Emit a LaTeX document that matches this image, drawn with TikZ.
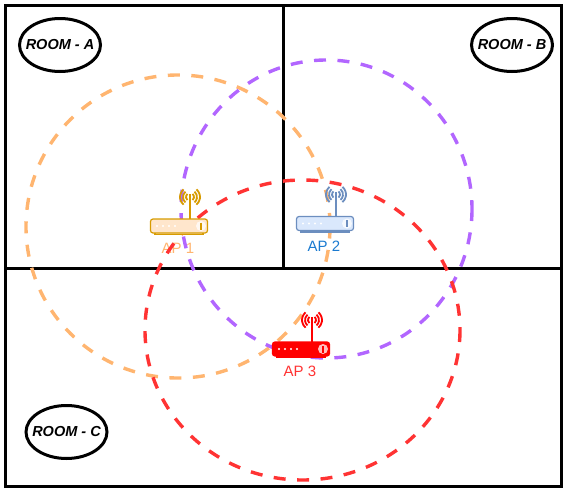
\documentclass[tikz,border=0pt]{standalone}
\usepackage{fontspec}
\setmainfont{Liberation Sans}
\usetikzlibrary{shapes.geometric}
\definecolor{cOrange}{HTML}{FFB570}
\definecolor{cPurple}{HTML}{B266FF}
\definecolor{cRed}{HTML}{FF3333}
\definecolor{cBlueText}{HTML}{1A7AD0}
\definecolor{oFill}{HTML}{FFE6CC}
\definecolor{oLine}{HTML}{D79B00}
\definecolor{bFill}{HTML}{DAE8FC}
\definecolor{bLine}{HTML}{6C8EBF}
\tikzset{
  wall/.style={draw=black,line width=3pt},
  coverage/.style={line width=3.4pt,dash pattern=on 12pt off 11.5pt},
  roomtag/.style={draw=black,line width=3pt,ellipse,minimum width=81pt,minimum height=53pt,inner xsep=-6.5pt,inner ysep=0pt,font=\fontsize{14.5pt}{16pt}\selectfont\bfseries\itshape},
  aplabel/.style={font=\fontsize{15pt}{17pt}\selectfont,inner sep=0pt},
  pics/router/.style n args={3}{code={
    \draw[draw=#2,fill=#1,line width=1.2pt] (-24,8) rectangle (24,15.5);
    \draw[draw=#2,line width=2.6pt] (11,0) -- (11,-25);
    \foreach \r in {4,7,10}{
      \draw[draw=#2,line width=1.8pt] (11-\r*0.643,-22-\r*0.766) arc[start angle=230,end angle=130,radius=\r];
      \draw[draw=#2,line width=1.8pt] (11+\r*0.643,-22-\r*0.766) arc[start angle=-50,end angle=50,radius=\r];
    }
    \draw[draw=#2,fill=#1,line width=1.2pt,rounded corners=2.5pt] (-28.5,0) rectangle (28.5,14);
    \fill[white,opacity=.75] (22,7) circle[radius=5];
    \draw[draw=#2,line width=1.1pt] (22,3.5) -- (22,10.5);
    \foreach \d in {-22,-16,-10,-4} \fill[white] (\d,7) circle[radius=1.2];
  }}
}
\begin{document}
\begin{tikzpicture}[x=1pt,y=-1pt]
\useasboundingbox (0,0) rectangle (566,493);
\node[aplabel,text=cOrange] (ap1label) at (178,248) {AP 1};
\node[aplabel,text=cBlueText] (ap2label) at (324,246) {AP 2};
\node[aplabel,text=cRed] (ap3label) at (300,371) {AP 3};
\draw[wall] (5.5,5) rectangle (561,486);
\coordinate (wallT) at (283,5);
\coordinate (wallM) at (283,268);
\coordinate (wallL) at (5.5,268);
\coordinate (wallR) at (561,268);
\draw[wall] (wallT) -- (wallM);
\draw[wall] (wallL) -- (wallR);
\draw[coverage,draw=cOrange] (178,226.5) ellipse[x radius=152,y radius=151.5];
\draw[coverage,draw=cPurple] (326.5,209) ellipse[x radius=145.5,y radius=149];
\draw[coverage,draw=cRed] (302.5,330) ellipse[x radius=157.5,y radius=150];
\node[roomtag] (roomA) at (60,45) {ROOM - A};
\node[roomtag] (roomB) at (512,45) {ROOM - B};
\node[roomtag] (roomC) at (66.5,432) {ROOM - C};
\pic at (179,219) {router={oFill}{oLine}{white}};
\pic at (325,216.5) {router={bFill}{bLine}{white}};
\pic at (301,342) {router={red}{red}{white}};
\end{tikzpicture}
\end{document}
